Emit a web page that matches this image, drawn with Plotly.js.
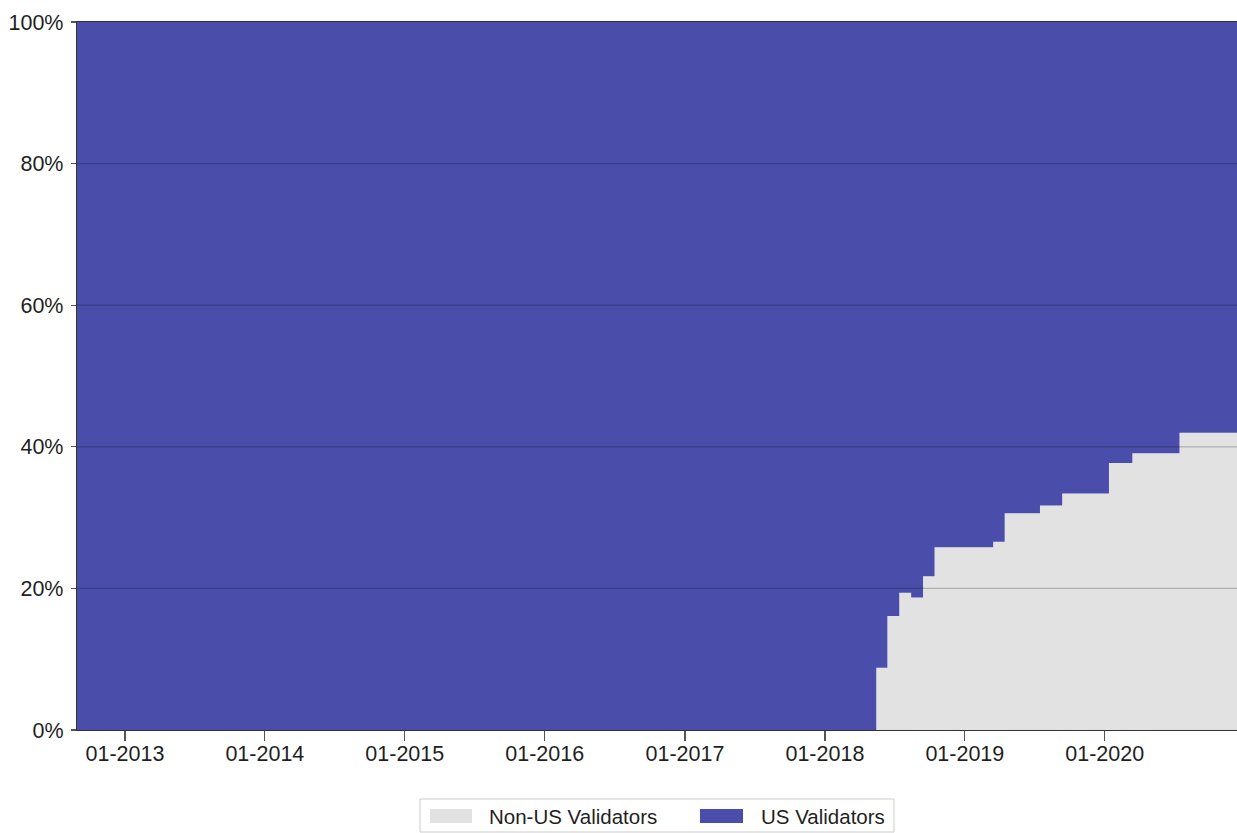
<!DOCTYPE html>
<html><head><meta charset="utf-8">
<script src="https://cdn.plot.ly/plotly-3.0.1.min.js"></script>
<style>html,body{margin:0;padding:0;background:#fff}#chart{width:1237px;height:833px}</style>
</head><body><div id="chart"></div>
<script>
// Dates where the share changes (monthly data, mid-month)
const dates = ['2012-08-29','2018-05-15','2018-06-13','2018-07-14','2018-08-14','2018-09-14','2018-10-14',
               '2019-03-16','2019-04-15','2019-07-16','2019-09-12','2020-01-12','2020-03-13','2020-07-14','2020-12-11'];
// Non-US validator share (%)
const nonUS = [0, 8.8, 16.1, 19.4, 18.7, 21.7, 25.8, 26.6, 30.6, 31.7, 33.4, 37.7, 39.1, 42.0, 42.0];
// US validator share (%)
const us    = [100, 91.2, 83.9, 80.6, 81.3, 78.3, 74.2, 73.4, 69.4, 68.3, 66.6, 62.3, 60.9, 58.0, 58.0];
const seriesNames = ['Non-US Validators', 'US Validators'];
const seriesColors = ['#e2e2e2', '#4b4daa'];
const yTickVals = [0, 20, 40, 60, 80, 100];
const yTickText = ['0%', '20%', '40%', '60%', '80%', '100%'];
const xRange = ['2012-08-29', '2020-12-11'];

const W = 1237, H = 833, M = {l:77, r:0, t:22, b:103};
const PW = W - M.l - M.r, PH = H - M.t - M.b;
const px = x => (x - M.l) / PW;
const py = y => (H - M.b - y) / PH;

const traces = [nonUS, us].map((vals, i) => ({
  type: 'scatter', mode: 'lines', x: dates, y: vals, name: seriesNames[i],
  stackgroup: 'one', line: {shape: 'hv', width: 0, color: seriesColors[i]},
  fillcolor: seriesColors[i], showlegend: false, hoverinfo: 'skip'
}));

const font = {family: '"Liberation Sans", Arial, sans-serif', color: '#1f1f1f'};
const shapes = yTickVals.filter(v => v > 0 && v < 100).map(v => ({
  type: 'line', xref: 'paper', x0: 0, x1: 1, yref: 'y', y0: v, y1: v,
  line: {color: 'rgba(0,0,0,0.22)', width: 1.2}, layer: 'above'
}));
// custom legend (matplotlib style patches)
shapes.push({type: 'rect', xref: 'paper', yref: 'paper', x0: px(420), x1: px(894), y0: py(799), y1: py(832),
  line: {color: '#cccccc', width: 1}, fillcolor: '#ffffff', layer: 'above'});
const swatchX = [[430, 472], [700, 743]];
const labelX = [487, 759];
const annotations = [];
seriesNames.forEach((n, i) => {
  shapes.push({type: 'rect', xref: 'paper', yref: 'paper', x0: px(swatchX[i][0]), x1: px(swatchX[i][1]),
    y0: py(809), y1: py(823), line: {width: 0}, fillcolor: seriesColors[i], layer: 'above'});
  annotations.push({xref: 'paper', yref: 'paper', x: px(labelX[i]), y: py(816), xanchor: 'left', yanchor: 'middle',
    text: n, showarrow: false, font: Object.assign({size: 20.5}, font)});
});

const layout = {
  width: W, height: H, margin: M, paper_bgcolor: '#ffffff', plot_bgcolor: '#ffffff',
  showlegend: false, font: font,
  xaxis: {type: 'date', range: xRange, tick0: '2013-01-01', dtick: 'M12', tickformat: '%m-%Y',
    showgrid: false, zeroline: false, showline: true, mirror: true, linecolor: '#333333', linewidth: 1.2,
    ticks: 'outside', ticklen: 10, tickcolor: '#555555', tickwidth: 1.2, ticklabelstandoff: -6,
    tickfont: Object.assign({size: 21.5}, font), layer: 'above traces'},
  yaxis: {range: [0, 100], tickmode: 'array', tickvals: yTickVals, ticktext: yTickText, showgrid: false, zeroline: false,
    showline: true, mirror: true, linecolor: '#333333', linewidth: 1.2,
    ticks: 'outside', ticklen: 5, tickcolor: '#555555', tickwidth: 1.2, ticklabelstandoff: 3,
    tickfont: Object.assign({size: 21.5}, font), layer: 'above traces'},
  shapes: shapes, annotations: annotations
};
Plotly.newPlot('chart', traces, layout, {staticPlot: true, displayModeBar: false});
</script></body></html>
